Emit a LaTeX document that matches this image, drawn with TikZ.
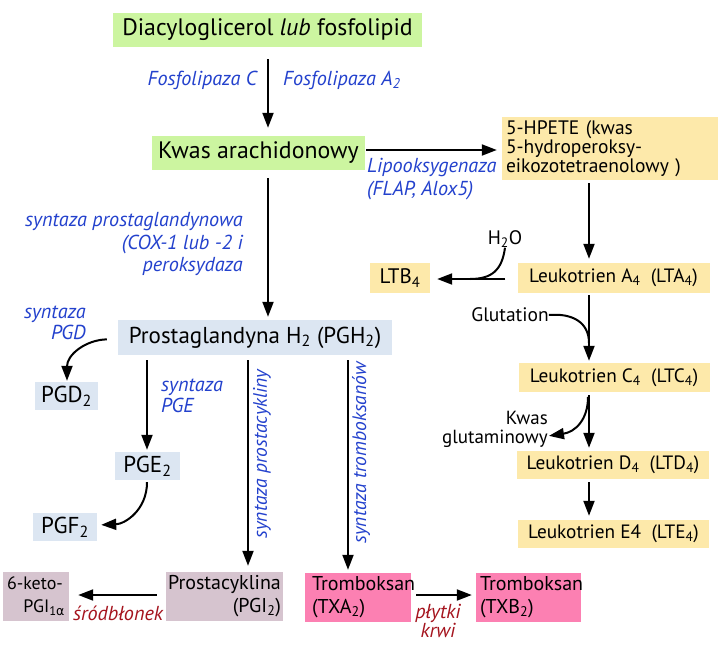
\documentclass[tikz,border=0pt]{standalone}
\usepackage{fontspec}
\setmainfont{PT Sans}
\newfontfamily\grk{DejaVu Sans}
\usetikzlibrary{arrows.meta}
\definecolor{gboxc}{RGB}{204,245,160}
\definecolor{yboxc}{RGB}{253,233,170}
\definecolor{bboxc}{RGB}{220,230,242}
\definecolor{mboxc}{RGB}{214,196,207}
\definecolor{pboxc}{RGB}{252,128,178}
\definecolor{bluet}{RGB}{35,65,205}
\definecolor{redt}{RGB}{165,20,30}
\begin{document}
\begin{tikzpicture}[x=1pt,y=-1pt,
  boxbase/.style={rectangle, inner sep=0pt},
  gb/.style={boxbase, fill=gboxc, font=\fontsize{23.8}{27}\selectfont},
  yb/.style={boxbase, fill=yboxc, font=\fontsize{19.3}{23}\selectfont},
  bb/.style={boxbase, fill=bboxc, font=\fontsize{23}{27}\selectfont},
  mb/.style={boxbase, fill=mboxc, font=\fontsize{20}{23}\selectfont},
  pb/.style={boxbase, fill=pboxc, font=\fontsize{20}{23}\selectfont},
  lbl/.style={inner sep=0pt, text=bluet, font=\fontsize{20.2}{22.5}\selectfont\itshape},
  rlbl/.style={inner sep=0pt, text=redt, font=\fontsize{20.2}{17}\selectfont\itshape},
  txt/.style={inner sep=0pt, font=\fontsize{19.5}{19}\selectfont},
  arr/.style={line width=2pt, -{Triangle[length=15pt,width=11pt]}},
  con/.style={line width=2pt}]
\fill[white] (0,0) rectangle (728,645);
\useasboundingbox (0,0) rectangle (728,645);
% column / row helper coordinates
\coordinate (c67) at (67,0);
\coordinate (c147) at (147,0);
\coordinate (c248) at (248,0);
\coordinate (c268) at (268,0);
\coordinate (c348) at (348,0);
\coordinate (c589) at (589,0);
\coordinate (r150) at (0,150);
\coordinate (r279) at (0,279);
\coordinate (r339) at (0,339);
\coordinate (r525) at (0,525);
\coordinate (r595) at (0,595);
% boxes
\node[gb, minimum width=309, minimum height=34] (A) at (267.5,30) {Diacyloglicerol \textit{lub} fosfolipid};
\node[gb, minimum width=213, minimum height=34] (K) at (258.5,153) {Kwas arachidonowy};
\node[yb, minimum width=216, minimum height=63, text width=208, align=left, font=\fontsize{19.5}{19}\selectfont] (H) at (610,148.5) {5-HPETE (kwas\\5-hydroperoksy-\\eikozotetraenolowy )};
\node[yb, minimum width=192, minimum height=30] (LA) at (613.5,278) {Leukotrien A\textsubscript{4}\ \ (LTA\textsubscript{4})};
\node[yb, minimum width=60, minimum height=30, font=\fontsize{21}{23}\selectfont] (LB) at (400,278) {LTB\textsubscript{4}};
\node[yb, minimum width=191, minimum height=29] (LC) at (614,377.5) {Leukotrien C\textsubscript{4}\ \ (LTC\textsubscript{4})};
\node[yb, minimum width=192, minimum height=28] (LD) at (613,465) {Leukotrien D\textsubscript{4}\ \ (LTD\textsubscript{4})};
\node[yb, minimum width=191, minimum height=28] (LE) at (613.5,534) {Leukotrien E4\ \ (LTE\textsubscript{4})};
\node[bb, minimum width=274, minimum height=35] (PH) at (255,337.5) {Prostaglandyna H\textsubscript{2} (PGH\textsubscript{2})};
\node[bb, minimum width=63, minimum height=28] (PD) at (66.5,396) {PGD\textsubscript{2}};
\node[bb, minimum width=65, minimum height=28] (PE) at (147.5,466) {PGE\textsubscript{2}};
\node[bb, minimum width=64, minimum height=28] (PF) at (65,527) {PGF\textsubscript{2}};
\node[mb, minimum width=66, minimum height=49, text width=58, align=left, font=\fontsize{18}{23}\selectfont] (KI) at (36,596.5) {\mbox{6-keto-}\\\hfill PGI\textsubscript{1{\grk α}}};
\node[mb, minimum width=117, minimum height=49, text width=113, align=left] (PI) at (224.5,596.5) {\mbox{Prostacyklina}\\\hfill(PGI\textsubscript{2})};
\node[pb, minimum width=106, minimum height=49, text width=98, align=left] (TA) at (358,597.5) {\hspace*{3pt}\mbox{Tromboksan}\\\hspace*{3pt}(TXA\textsubscript{2})};
\node[pb, minimum width=105, minimum height=49, text width=97, align=left] (TB) at (528.5,597.5) {\mbox{Tromboksan}\\(TXB\textsubscript{2})};
% labels
\node[lbl, anchor=east] (fc) at (257,80) {Fosfolipaza C};
\node[lbl, anchor=west] (fa) at (283,80) {Fosfolipaza A\textsubscript{2}};
\node[lbl, anchor=west, align=left] (lip) at (367,179) {Lipooksygenaza\\(FLAP, Alox5)};
\node[lbl, anchor=east, align=right] (sp) at (243,244) {syntaza prostaglandynowa\\(COX-1 lub -2 i\\peroksydaza};
\node[lbl, anchor=east, align=right, font=\fontsize{20.2}{21}\selectfont\itshape] (spgd) at (86,323) {syntaza\\PGD};
\node[lbl, anchor=west, align=left, font=\fontsize{20.2}{21}\selectfont\itshape] (spge) at (161,396) {syntaza\\PGE};
\node[lbl, rotate=90, font=\fontsize{19.5}{21}\selectfont\itshape] (spi) at (262,454) {syntaza prostacykliny};
\node[lbl, rotate=90, font=\fontsize{19.5}{21}\selectfont\itshape] (stx) at (361,453) {syntaza tromboksanów};
\node[rlbl] (sb) at (118,613) {śródbłonek};
\node[rlbl, align=center] (pk) at (438,621) {płytki\\krwi};
\node[txt] (h2o) at (505,239) {H\textsubscript{2}O};
\node[txt] (glu) at (510,315) {Glutation};
\node[txt, anchor=east, align=right, font=\fontsize{19}{19}\selectfont] (kg) at (548,429) {Kwas\\glutaminowy};
\coordinate (m1) at (470,279);
\coordinate (m2) at (589,343);
\coordinate (m3) at (588,397);
% connectors
\draw[arr, shorten <=12pt, shorten >=8pt] (A.south -| c268) -- (K.north -| c268);
\draw[arr, shorten <=1pt, shorten >=5pt] (K.east |- r150) -- (H.west |- r150);
\draw[arr, shorten <=3pt, shorten >=4pt] (H.south -| c589) -- (LA.north -| c589);
\draw[arr, shorten <=12pt, shorten >=7pt] (LA.west |- r279) -- (LB.east |- r279);
\draw[con] (h2o.south) .. controls (502,270) and (492,279) .. (m1);
\draw[arr, shorten <=2pt, shorten >=2pt] (LA.south -| c589) -- (LC.north -| c589);
\draw[con] (glu.east) .. controls (572,313) and (589,322) .. (m2);
\draw[arr, shorten <=3pt, shorten >=3pt] (LC.south -| c589) -- (LD.north -| c589);
\draw[arr, shorten >=1pt] (m3) .. controls (588,420) and (575,432) .. (kg.east |- 0,436);
\draw[arr, shorten <=3pt, shorten >=4pt] (LD.south -| c589) -- (LE.north -| c589);
\draw[arr, shorten <=8pt, shorten >=3pt] (K.south -| c268) -- (PH.north -| c268);
\draw[arr, shorten <=11pt, shorten >=1pt] (PH.west |- r339) .. controls (85,340) and (67,355) .. (PD.north -| c67);
\draw[arr, shorten <=5pt, shorten >=2pt] (PH.south -| c147) -- (PE.north -| c147);
\draw[arr, shorten <=2pt, shorten >=4pt] (PE.south -| c147) .. controls (147,510) and (125,524) .. (PF.east |- r525);
\draw[arr, shorten <=5pt, shorten >=6pt] (PH.south -| c248) -- (PI.north -| c248);
\draw[arr, shorten <=5pt, shorten >=3pt] (PH.south -| c348) -- (TA.north -| c348);
\draw[arr, shorten <=9pt, shorten >=9pt] (PI.west |- r595) -- (KI.east |- r595);
\draw[arr, shorten <=5pt, shorten >=4pt] (TA.east |- r595) -- (TB.west |- r595);
\end{tikzpicture}
\end{document}
